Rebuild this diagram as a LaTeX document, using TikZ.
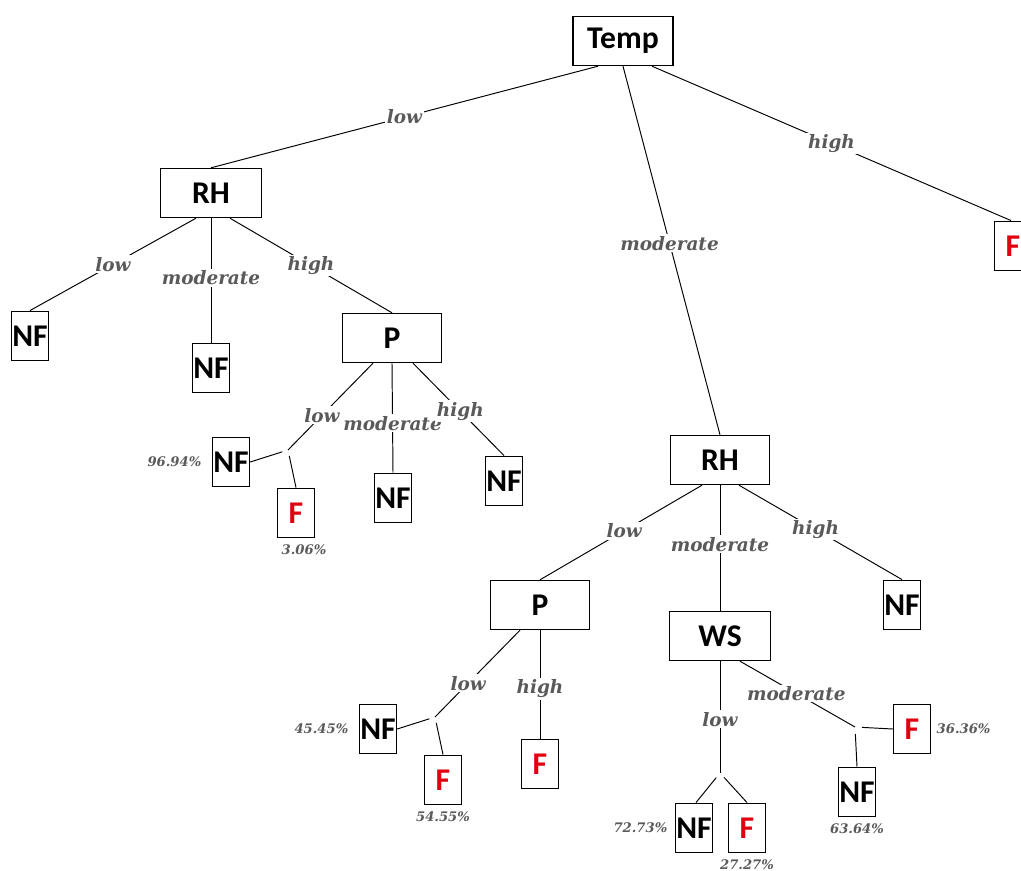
\documentclass[tikz,border=0pt]{standalone}
\usepackage{fontspec}
\usepackage{xcolor}
\usepackage{tikz}
\usetikzlibrary{positioning,calc}
\newfontfamily\boxfont{Carlito}
\newfontfamily\lblfont{DejaVu Serif}
\definecolor{lblgray}{HTML}{5A5A5A}
\definecolor{fred}{HTML}{E00010}

\begin{document}
\begin{tikzpicture}[x=0.2mm,y=-0.2mm,line width=0.55pt,
    box/.style={draw,line width=0.8pt,minimum width=19.8mm,minimum height=9.8mm,inner sep=0pt,font=\boxfont\fontsize{18}{20}\selectfont\bfseries},
    leaf/.style={draw,line width=0.8pt,minimum width=7.4mm,minimum height=9.9mm,inner sep=0pt,font=\boxfont\fontsize{18}{20}\selectfont\bfseries},
    fleaf/.style={leaf,text=fred},
    lbl/.style={fill=white,inner sep=1pt,text=lblgray,font=\lblfont\fontsize{10.5}{12}\selectfont\bfseries\itshape},
    pct/.style={inner sep=0pt,text=lblgray,font=\lblfont\fontsize{7.5}{9}\selectfont\bfseries\itshape}]
  \clip (0,0) rectangle (1021,871);
  % inner nodes
  \node[box,minimum width=20mm] (temp) at (623,41) {Temp};
  \node[box,minimum width=20.2mm] (rh1) at (211,193) {RH};
  \node[box] (p1) at (392,338) {P};
  \node[box] (rh2) at (720,460) {RH};
  \node[box] (p2) at (540,605) {P};
  \node[box,minimum width=20.2mm] (ws) at (720,636) {WS};
  % leaves
  \node[leaf] (nf1) at (30,336) {NF};
  \node[leaf] (nf2) at (211,368) {NF};
  \node[fleaf] (fr) at (1013,246) {F};
  \node[leaf] (nf3) at (231,462) {NF};
  \node[fleaf] (f1) at (296,513) {F};
  \node[leaf] (nf4) at (393,498) {NF};
  \node[leaf] (nf5) at (504,481) {NF};
  \node[leaf] (nf6) at (902,605) {NF};
  \node[leaf] (nf7) at (378,729) {NF};
  \node[fleaf] (f2) at (443,780) {F};
  \node[fleaf] (f3) at (540,764) {F};
  \node[leaf] (nf8) at (694,828) {NF};
  \node[fleaf] (f4) at (747,828) {F};
  \node[fleaf] (f5) at (912,729) {F};
  \node[leaf] (nf9) at (857,792) {NF};
  % split points
  \coordinate (s1) at (288,450);
  \coordinate (s2) at (435,717);
  \coordinate (s3) at (720,773);
  \coordinate (s4) at (855,727);
  % percentages
  \node[pct,left=2mm of nf3] (q1) {96.94\%};
  \node[pct,below=1.2mm of f1,xshift=1.6mm] (q2) {3.06\%};
  \node[pct,left=2mm of nf7] (q3) {45.45\%};
  \node[pct,below=1.2mm of f2] (q4) {54.55\%};
  \node[pct,left=1.4mm of nf8] (q5) {72.73\%};
  \node[pct,below=1.2mm of f4] (q6) {27.27\%};
  \node[pct,right=1mm of f5] (q7) {36.36\%};
  \node[pct,below=1.2mm of nf9] (q8) {63.64\%};
  % root
  \draw ($(temp.south)+(-25,0)$) -- node[lbl] {low} (rh1.north);
  \draw (temp.south) -- node[lbl,pos=0.48] {moderate} (rh2.north);
  \draw ($(temp.south)+(29,0)$) -- node[lbl] {high} ($(fr.north)+(-2,0)$);
  % left RH
  \draw ($(rh1.south)+(-15,0)$) -- node[lbl] {low} (nf1.north);
  \draw (rh1.south) -- node[lbl,pos=0.48] {moderate} (nf2.north);
  \draw ($(rh1.south)+(19,0)$) -- node[lbl] {high} (p1.north);
  \draw ($(p1.south)+(-19,0)$) -- node[lbl,pos=0.6] {low} (s1);
  \draw[shorten <=1.2mm] (s1) -- (nf3.east);
  \draw[shorten <=1.2mm] (s1) -- (f1.north);
  \draw (p1.south) -- node[lbl,pos=0.55] {moderate} (nf4.north);
  \draw ($(p1.south)+(21,0)$) -- node[lbl,pos=0.52] {high} (nf5.north);
  % right RH
  \draw ($(rh2.south)+(-18,0)$) -- node[lbl,pos=0.48] {low} (p2.north);
  \draw (rh2.south) -- node[lbl,pos=0.47] {moderate} (ws.north);
  \draw ($(rh2.south)+(19,0)$) -- node[lbl,pos=0.47] {high} (nf6.north);
  \draw ($(p2.south)+(-20,0)$) -- node[lbl,pos=0.61] {low} (s2);
  \draw[shorten <=1.2mm] (s2) -- (nf7.east);
  \draw[shorten <=1.2mm] (s2) -- (f2.north);
  \draw (p2.south) -- node[lbl,pos=0.54] {high} (f3.north);
  \draw (ws.south) -- node[lbl,pos=0.52] {low} (s3);
  \draw[shorten <=1.2mm] (s3) -- ($(nf8.north)+(2,0)$);
  \draw[shorten <=1.2mm] (s3) -- (f4.north);
  \draw ($(ws.south)+(20,0)$) -- node[lbl,pos=0.49] {moderate} (s4);
  \draw[shorten <=1.4mm] (s4) -- (f5.west);
  \draw[shorten <=1.4mm] (s4) -- (nf9.north);
\end{tikzpicture}
\end{document}
